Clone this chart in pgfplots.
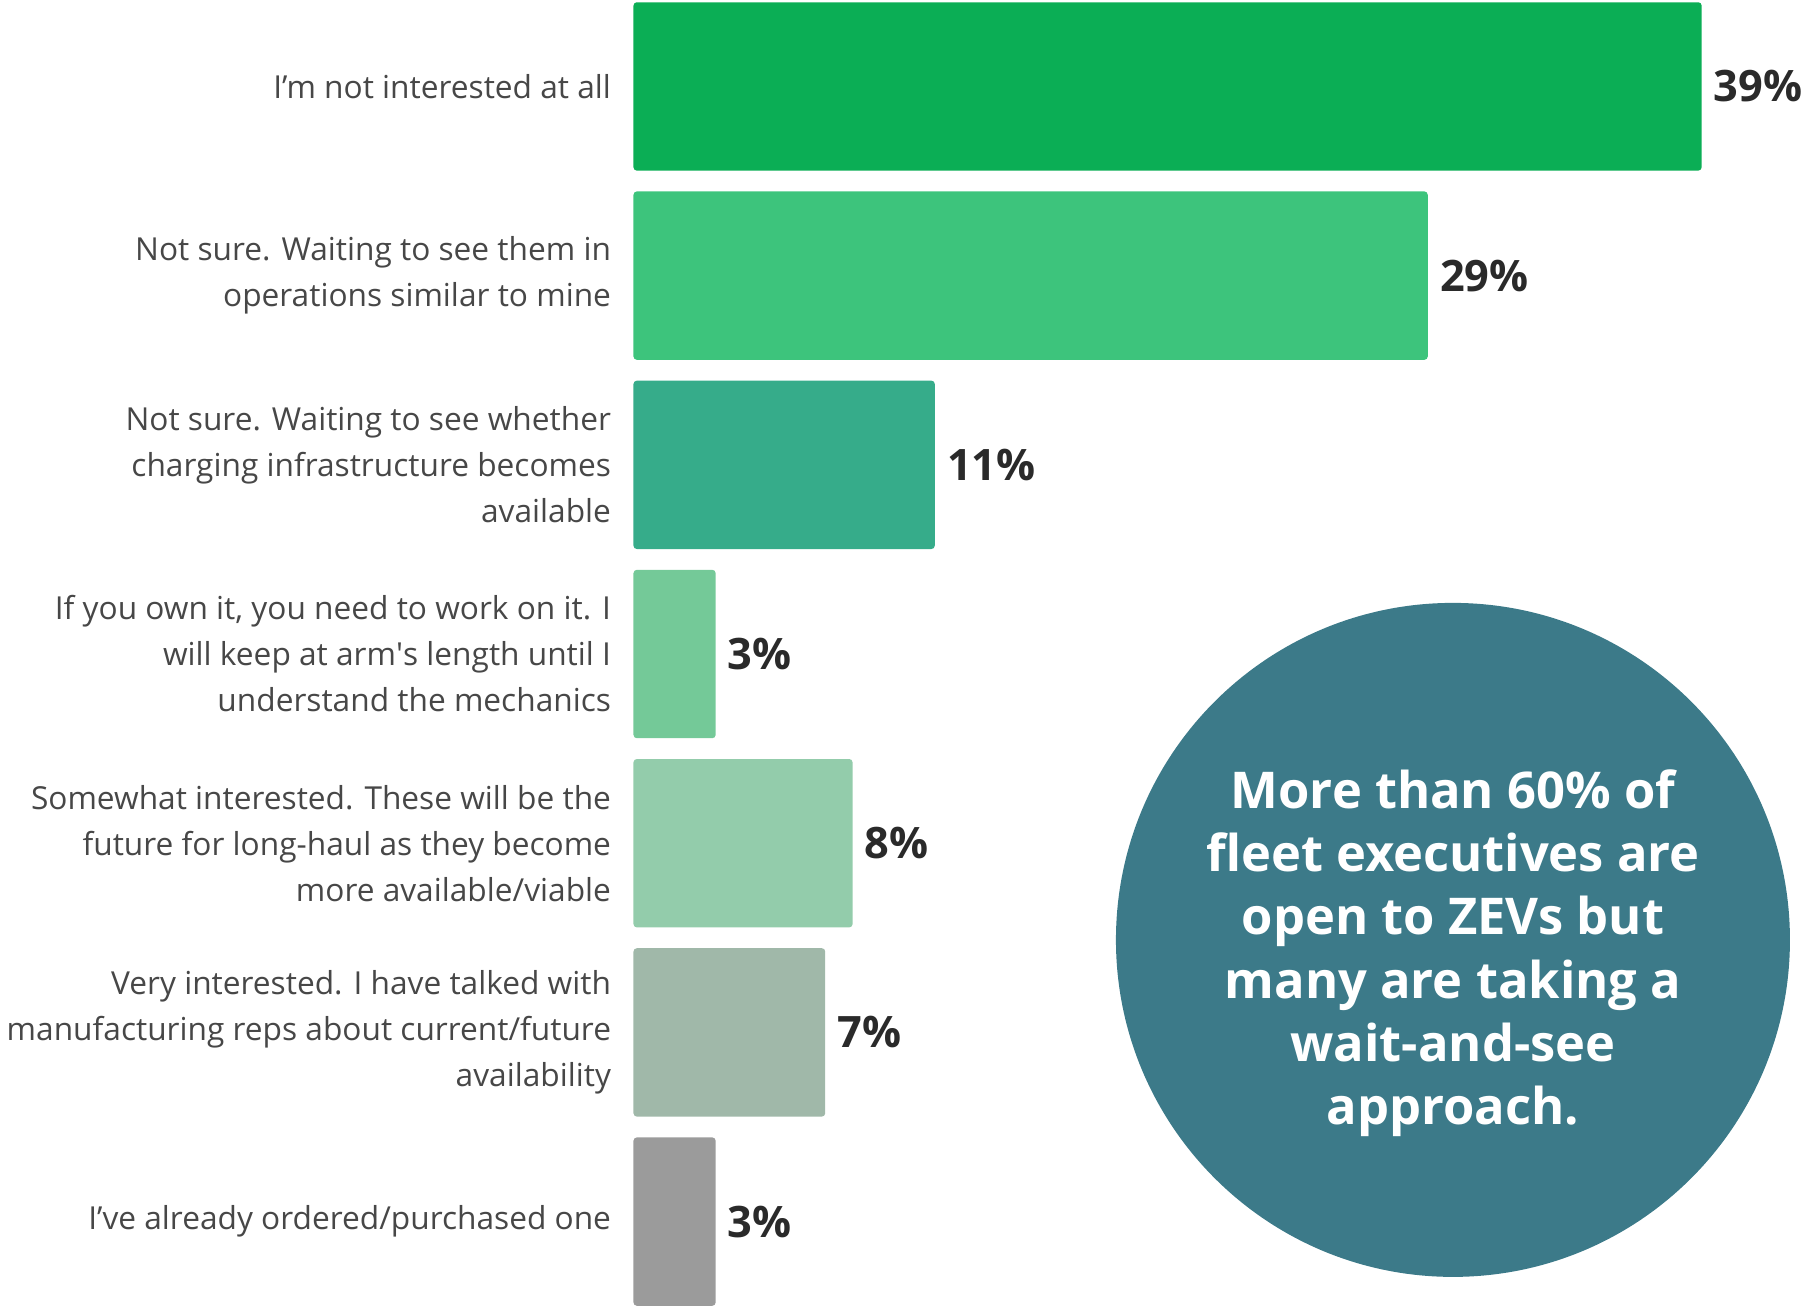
\documentclass[border=0pt]{standalone}
\usepackage{pgfplots}
\pgfplotsset{compat=1.18}
\usepackage{fontspec}
\setmainfont{Open Sans}

\definecolor{c1}{HTML}{0BAE55}
\definecolor{c2}{HTML}{3DC47C}
\definecolor{c3}{HTML}{36AC8A}
\definecolor{c4}{HTML}{74C998}
\definecolor{c5}{HTML}{93CCAB}
\definecolor{c6}{HTML}{A0B8A9}
\definecolor{c7}{HTML}{9B9B9B}
\definecolor{circ}{HTML}{3C7A89}
\definecolor{labtxt}{HTML}{474747}
\definecolor{valtxt}{HTML}{2A2A2A}

\begin{document}
\begin{tikzpicture}
\begin{axis}[
    scale only axis,
    width=542.7pt, height=393.9pt,
    xmin=-23.13, xmax=42.92,
    ymin=-0.483, ymax=6.457,
    xbar, bar width=0.89, bar shift=0pt,
    axis line style={draw=none},
    major tick length=0pt,
    xtick=\empty,
    ytick={0,1,2,3,4,5,6},
    yticklabels={
        I’ve already ordered/purchased one,
        {Very interested. I have talked with\\manufacturing reps about current/future\\availability},
        {Somewhat interested. These will be the\\future for long-haul as they become\\more available/viable},
        {If you own it, you need to work on it. I\\will keep at arm\textquotesingle s length until I\\understand the mechanics},
        {Not sure. Waiting to see whether\\charging infrastructure becomes\\available},
        {Not sure. Waiting to see them in\\operations similar to mine},
        I’m not interested at all},
    yticklabel style={anchor=east, xshift=183.5pt, inner sep=0pt, align=right,
        text=labtxt, font=\fontsize{9.5}{13.8}\selectfont},
    /pgf/number format/assume math mode=true,
    nodes near coords={\pgfmathprintnumber\pgfplotspointmeta\%},
    nodes near coords style={anchor=west, inner sep=0pt, xshift=3.5pt,
        text=valtxt, font=\fontsize{13}{14}\selectfont\bfseries},
    clip=false,
]
\addplot[fill=c1, draw=none, rounded corners=1pt] coordinates {(39,6)};
\addplot[fill=c2, draw=none, rounded corners=1pt] coordinates {(29,5)};
\addplot[fill=c3, draw=none, rounded corners=1pt] coordinates {(11,4)};
\addplot[fill=c4, draw=none, rounded corners=1pt] coordinates {(3,3)};
\addplot[fill=c5, draw=none, rounded corners=1pt] coordinates {(8,2)};
\addplot[fill=c6, draw=none, rounded corners=1pt] coordinates {(7,1)};
\addplot[fill=c7, draw=none, rounded corners=1pt] coordinates {(3,0)};

\fill[circ] (axis cs:29.92,1.489) circle[radius=101.1pt];
\node[text=white, align=center, yshift=-4pt,
      font=\fontsize{15.2}{19}\selectfont\bfseries]
    at (axis cs:29.92,1.489)
    {More than 60\% of\\fleet executives are\\open to ZEVs but\\many are taking a\\wait-and-see\\approach.};
\end{axis}
\pgfresetboundingbox
\path[use as bounding box] (current axis.south west) rectangle (current axis.north east);
\end{tikzpicture}
\end{document}
